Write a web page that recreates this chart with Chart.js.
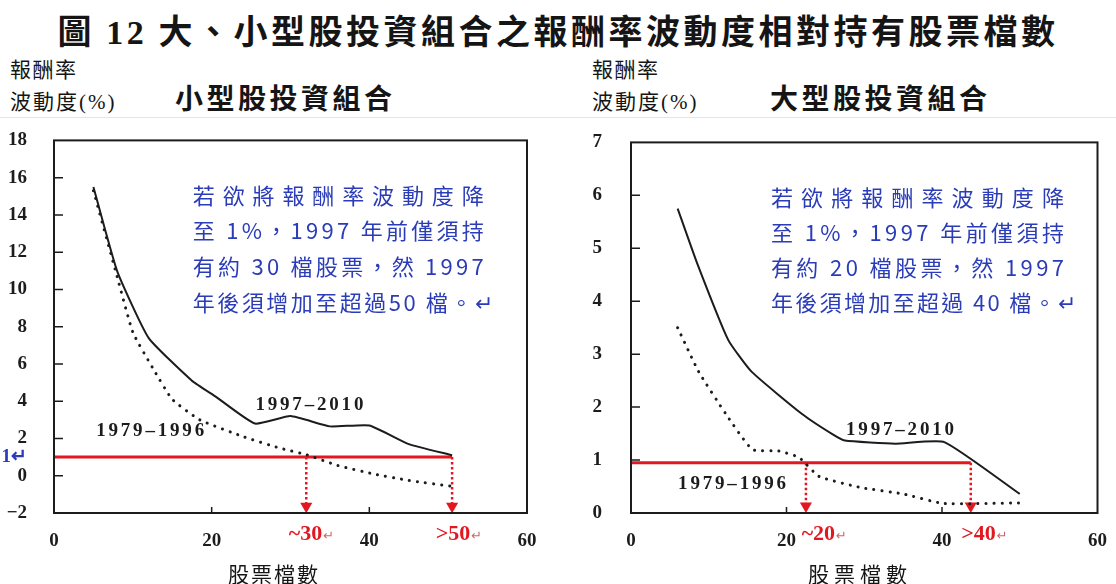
<!DOCTYPE html>
<html>
<head>
<meta charset="utf-8">
<script src="https://cdn.jsdelivr.net/npm/chart.js@4.4.0/dist/chart.umd.min.js"></script>
<style>
  body { margin: 0; background: #fff; width: 1116px; height: 584px; overflow: hidden; position: relative;
         font-family: "Noto Sans CJK TC", sans-serif; }
  .t { position: absolute; white-space: nowrap; color: #151515; line-height: 1; }
  .serif { font-family: "Liberation Serif", serif; }
  .sep { position: absolute; left: 0; top: 117px; width: 1116px; height: 1px; background: #d6e9ec; }
  canvas { position: absolute; }
</style>
</head>
<body>

<div class="t" style="left:0;width:1116px;text-align:center;top:13px;font-size:34px;font-weight:bold;letter-spacing:3.5px;">圖 <span class="serif">12</span> 大、小型股投資組合之報酬率波動度相對持有股票檔數</div>

<div class="t" style="left:10px;top:58px;font-size:21px;letter-spacing:1.5px;">報酬率</div>
<div class="t" style="left:10px;top:90px;font-size:21px;letter-spacing:2px;">波動度<span class="serif">(%)</span></div>
<div class="t" style="left:175px;top:83px;font-size:28px;font-weight:bold;letter-spacing:3.5px;">小型股投資組合</div>

<div class="t" style="left:592px;top:58px;font-size:21px;letter-spacing:1.5px;">報酬率</div>
<div class="t" style="left:592px;top:90px;font-size:21px;letter-spacing:2px;">波動度<span class="serif">(%)</span></div>
<div class="t" style="left:770px;top:83px;font-size:28px;font-weight:bold;letter-spacing:3.5px;">大型股投資組合</div>

<div class="sep"></div>

<canvas id="smallChart" width="560" height="450" style="left:0;top:110px;"></canvas>
<canvas id="largeChart" width="556" height="450" style="left:560px;top:110px;"></canvas>

<div class="t" style="left:228px;top:563px;font-size:21px;letter-spacing:2px;">股票檔數</div>
<div class="t" style="left:808px;top:563px;font-size:21px;letter-spacing:5px;">股票檔數</div>

<script>
// x: number of stocks held, y: return volatility (%)
const xTicks = [0, 20, 40, 60];

// small-cap portfolio
const smallX9710 = [5, 8, 12, 17.5, 20.5, 25.5, 30, 35, 40, 45, 50.5];
const small9710 = [15.5, 11.0, 7.4, 5.1, 4.25, 2.8, 3.2, 2.65, 2.7, 1.7, 1.1];
const smallX7996 = [5, 8, 10, 12.5, 15, 18.5, 24, 28.5, 32, 36, 40.5, 45, 50.5];
const small7996 = [15.3, 10.7, 7.7, 5.8, 4.1, 3.0, 2.1, 1.5, 1.13, 0.55, 0.1, -0.25, -0.57];
const smallTarget = 1;
const smallArrows = [32, 50.5];
const smallYTicks = [-2, 0, 1, 2, 4, 6, 8, 10, 12, 14, 16, 18];

// large-cap portfolio
const largeX9710 = [6, 8.5, 12.5, 15.5, 22, 26, 27.5, 34, 40.3, 50];
const large9710 = [5.75, 4.72, 3.27, 2.67, 1.87, 1.48, 1.37, 1.31, 1.34, 0.36];
const largeX7996 = [6, 8.7, 12.2, 15.6, 19, 21.6, 24.2, 29.6, 35, 40.2, 50];
const large7996 = [3.5, 2.67, 1.87, 1.2, 1.17, 1.05, 0.69, 0.48, 0.36, 0.18, 0.19];
const largeTarget = 0.95;
const largeArrows = [22.5, 43.7];
const largeYTicks = [0, 1, 2, 3, 4, 5, 6, 7];

const RED = '#e3171f';
const BLUE = '#2a3cb8';
const INK = '#1c1c1c';
const tickFont = { family: 'Liberation Serif', size: 19, weight: 'bold' };

// draw text spread out to a given width, char by char
function justify(ctx, text, x, y, w) {
  const chars = Array.from(text);
  let total = 0;
  const ws = chars.map(c => { const m = ctx.measureText(c).width; total += m; return m; });
  const gap = chars.length > 1 ? (w - total) / (chars.length - 1) : 0;
  let cx = x;
  chars.forEach((c, i) => { ctx.fillText(c, cx, y); cx += ws[i] + gap; });
}

const decor = {
  id: 'decor',
  afterDraw(chart) {
    const { ctx, chartArea: a, scales: { x, y } } = chart;
    const n = chart.options.plugins.decor;
    ctx.save();

    // frame
    ctx.strokeStyle = INK;
    ctx.lineWidth = 2;
    ctx.strokeRect(a.left, a.top, a.right - a.left, a.bottom - a.top);

    // inward tick marks
    ctx.lineWidth = 1.5;
    ctx.beginPath();
    n.yMarks.forEach(v => {
      const py = y.getPixelForValue(v);
      ctx.moveTo(a.left, py); ctx.lineTo(a.left + 9, py);
    });
    [20, 40].forEach(v => {
      const px = x.getPixelForValue(v);
      ctx.moveTo(px, a.bottom); ctx.lineTo(px, a.bottom - 6);
    });
    ctx.stroke();

    // blue note
    ctx.fillStyle = BLUE;
    ctx.font = '22px "Noto Sans CJK TC"';
    ctx.textBaseline = 'middle';
    const nx = x.getPixelForValue(n.note.x);
    const ny = y.getPixelForValue(n.note.y);
    n.note.lines.forEach((line, i) => {
      justify(ctx, line, nx, ny + i * n.note.gap, n.note.widths[i]);
    });

    // series labels
    ctx.fillStyle = INK;
    ctx.font = 'bold 19px "Liberation Serif"';
    n.series.forEach(s => {
      const cx = x.getPixelForValue(s.x);
      justify(ctx, s.text, cx - 54, y.getPixelForValue(s.y), 108);
    });

    // red threshold labels under the axis
    n.red.forEach(r => {
      const cx = x.getPixelForValue(r.x);
      ctx.fillStyle = RED;
      ctx.font = 'bold 22px "Liberation Serif"';
      ctx.textAlign = 'center';
      ctx.fillText(r.text, cx, a.bottom + 21);
      const w = ctx.measureText(r.text).width;
      ctx.fillStyle = '#c9686c';
      ctx.font = '13px "DejaVu Sans"';
      ctx.textAlign = 'left';
      ctx.fillText('\u21B5', cx + w / 2 + 1, a.bottom + 24);
    });
    ctx.restore();
  }
};

function pts(xs, ys) { return xs.map((v, i) => ({ x: v, y: ys[i] })); }

function arrow(xv, top, bottom, dy) {
  return {
    data: [{ x: xv, y: top }, { x: xv, y: bottom + dy }],
    borderColor: RED, backgroundColor: RED, borderWidth: 2.5, borderDash: [2.5, 2.5],
    pointStyle: 'triangle', rotation: 180, pointRadius: [0, 7], pointBorderWidth: 0,
    clip: false
  };
}

function tickText(v, blue) {
  if (v === blue) return v + '\u21B5';
  return v < 0 ? '\u2212' + Math.abs(v) : String(v);
}

function buildChart(id, c) {
  return new Chart(document.getElementById(id), {
    type: 'line',
    data: {
      datasets: [
        { data: pts(c.xs1, c.solid), borderColor: INK, borderWidth: 2, pointRadius: 0, tension: 0.15 },
        { data: pts(c.xs2, c.dotted), borderColor: INK, borderWidth: 3, borderDash: [0.1, 8],
          borderCapStyle: 'round', pointRadius: 0, tension: 0.15 },
        { data: [{ x: 0, y: c.target }, { x: c.arrows[1], y: c.target }], borderColor: RED,
          borderWidth: 3, pointRadius: 0 },
        arrow(c.arrows[0], c.target, c.yMin, c.headDy),
        arrow(c.arrows[1], c.target, c.yMin, c.headDy)
      ]
    },
    options: {
      responsive: false,
      animation: false,
      layout: { padding: { top: 18, right: c.padRight, left: 0, bottom: 0 } },
      plugins: { legend: { display: false }, tooltip: { enabled: false }, decor: c.decor },
      scales: {
        x: {
          type: 'linear', min: 0, max: 60,
          afterBuildTicks: s => { s.ticks = xTicks.map(v => ({ value: v })); },
          afterFit: s => { s.height = 47; },
          grid: { display: false }, border: { display: false },
          ticks: { padding: 9, font: tickFont, color: INK }
        },
        y: {
          min: c.yMin, max: c.yMax,
          afterBuildTicks: s => { s.ticks = c.yTicks.map(v => ({ value: v })); },
          afterFit: s => { s.width = c.yWidth; },
          grid: { display: false }, border: { display: false },
          ticks: {
            padding: c.yPad, font: tickFont,
            color: t => (c.blueTick !== undefined && t.tick && t.tick.value === c.blueTick) ? BLUE : INK,
            callback: v => tickText(v, c.blueTick)
          }
        }
      }
    },
    plugins: [decor]
  });
}

buildChart('smallChart', {
  xs1: smallX9710, solid: small9710, xs2: smallX7996, dotted: small7996,
  target: smallTarget, arrows: smallArrows, yMin: -2, yMax: 18, yTicks: smallYTicks,
  headDy: 0.36, padRight: 33, yWidth: 54, yPad: 19, blueTick: 1,
  decor: {
    yMarks: [0, 2, 4, 6, 8, 10, 12, 14, 16],
    note: {
      x: 17.6, y: 15.05, gap: 35.7, widths: [291, 291, 291, 300],
      lines: ['若欲將報酬率波動度降', '至 1%，1997 年前僅須持', '有約 30 檔股票，然 1997', '年後須增加至超過50 檔。\u21B5']
    },
    series: [{ text: '1997–2010', x: 32.4, y: 3.77 }, { text: '1979–1996', x: 12.2, y: 2.42 }],
    red: [{ text: '~30', x: 31.9 }, { text: '>50', x: 50.6 }]
  }
});

buildChart('largeChart', {
  xs1: largeX9710, solid: large9710, xs2: largeX7996, dotted: large7996,
  target: largeTarget, arrows: largeArrows, yMin: 0, yMax: 7, yTicks: largeYTicks,
  headDy: 0.13, padRight: 8, yWidth: 71, yPad: 21,
  decor: {
    yMarks: [1, 2, 3, 4, 5, 6],
    note: {
      x: 18.0, y: 5.96, gap: 35, widths: [293, 293, 293, 305],
      lines: ['若欲將報酬率波動度降', '至 1%，1997 年前僅須持', '有約 20 檔股票，然 1997', '年後須增加至超過 40 檔。\u21B5']
    },
    series: [{ text: '1997–2010', x: 34.6, y: 1.56 }, { text: '1979–1996', x: 13.0, y: 0.545 }],
    red: [{ text: '~20', x: 24.1 }, { text: '>40', x: 44.7 }]
  }
});
</script>
</body>
</html>
